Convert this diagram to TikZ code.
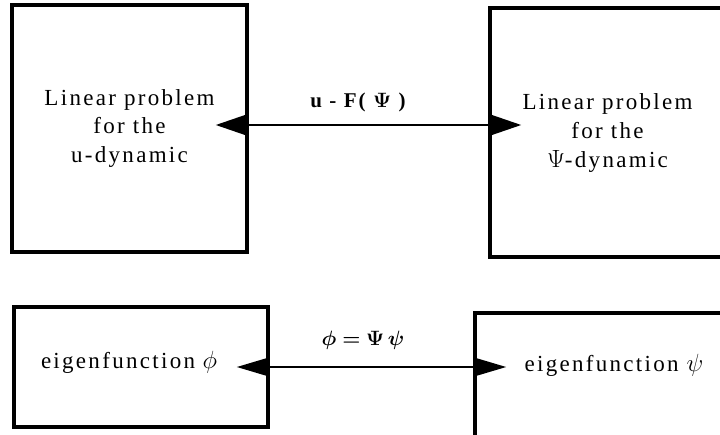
\documentclass[tikz,border=0pt]{standalone}
\usepackage{bm}
\usepackage{fontspec}
\setmainfont[LetterSpace=10]{Liberation Serif}
\usetikzlibrary{arrows.meta}
\tikzset{
  box/.style={draw, line width=3.5pt, inner sep=0pt, align=center,
    font=\fontsize{23}{29}\selectfont},
  conn/.style={line width=2.2pt, {Triangle[length=33pt,width=22pt]}-{Triangle[length=33pt,width=22pt]},
    shorten <=-33pt, shorten >=-33pt},
  connb/.style={line width=2.2pt, {Triangle[length=33pt,width=19pt]}-{Triangle[length=33pt,width=19pt]},
    shorten <=-33pt, shorten >=-33pt},
  lab/.style={font=\fontsize{21}{26}\selectfont\bfseries}
}
\begin{document}
\begin{tikzpicture}[x=1pt,y=-1pt]
\useasboundingbox (0,0) rectangle (720,434);
\clip (0,0) rectangle (720,434);
\node[box, minimum width=235pt, minimum height=247pt] (tl) at (129.5,128.5)
  {Linear problem\\for the\\u-dynamic};
\node[box, minimum width=235pt, minimum height=249pt] (tr) at (607.5,132.5)
  {Linear problem\\for the\\$\Psi$-dynamic};
\node[box, minimum width=254pt, minimum height=120pt, text width=200pt, align=left, text height=16pt, text depth=13pt] (bl) at (141,367)
  {eigenfunction $\phi$};
\node[box, minimum width=278pt, minimum height=140pt, text height=16pt, text depth=40pt] (br) at (614,383)
  {eigenfunction $\psi$};
\coordinate (ta) at (360,125);
\coordinate (ba) at (360,367);
\draw[conn] (tl.east |- ta) -- (tr.west |- ta);
\draw[connb] (bl.east |- ba) -- (br.west |- ba);
\node[lab] (tlab) at (358,102) {u - F( $\bm{\Psi}$ )};
\node[lab] (blab) at (363,340) {$\bm{\phi=\Psi\,\psi}$};
\end{tikzpicture}
\end{document}
